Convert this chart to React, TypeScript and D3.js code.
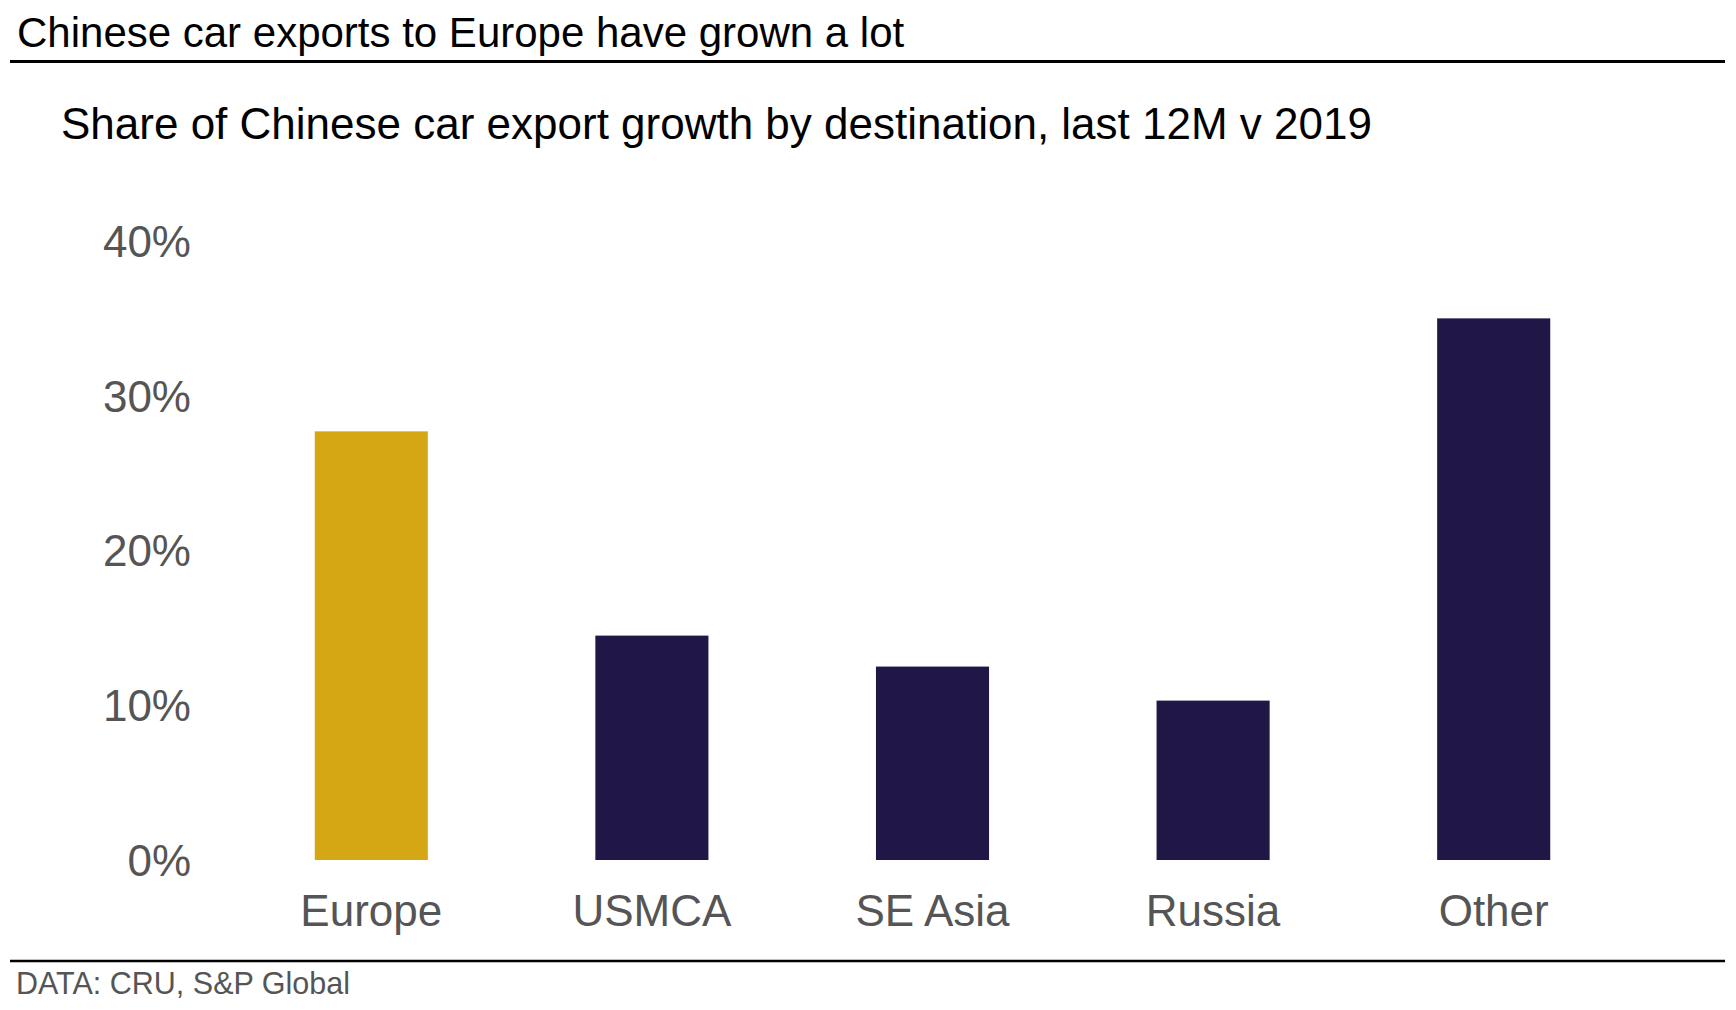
import { useEffect, useRef } from "react";
import * as d3 from "d3";

const CATEGORIES = ["Europe", "USMCA", "SE Asia", "Russia", "Other"];
const SHARES = [27.7, 14.5, 12.5, 10.3, 35.0];
const HIGHLIGHT = ["Europe"];
const Y_TICKS = [0, 10, 20, 30, 40];

const TITLE = "Chinese car exports to Europe have grown a lot";
const SUBTITLE = "Share of Chinese car export growth by destination, last 12M v 2019";
const SOURCE = "DATA: CRU, S&P Global";

const W = 1736;
const H = 1010;
const FONT = "'Liberation Sans', Arial, sans-serif";
const GOLD = "#d5a715";
const NAVY = "#201747";
const GREY = "#555555";

function drawChart(svgEl: SVGSVGElement) {
  const svg = d3.select(svgEl);
  svg.selectAll("*").remove();

  const x = d3.scaleBand<string>()
    .domain(CATEGORIES)
    .range([231, 1634])
    .paddingInner(0.597)
    .paddingOuter(0.2985);

  const y = d3.scaleLinear().domain([0, 40]).range([860, 241]);

  // title + rules
  svg.append("text")
    .attr("x", 17).attr("y", 47)
    .attr("font-family", FONT).attr("font-size", 42)
    .attr("fill", "#000")
    .text(TITLE);

  svg.append("line")
    .attr("x1", 10).attr("x2", 1725)
    .attr("y1", 61.5).attr("y2", 61.5)
    .attr("stroke", "#000").attr("stroke-width", 3);

  svg.append("text")
    .attr("x", 61).attr("y", 139)
    .attr("font-family", FONT).attr("font-size", 44)
    .attr("fill", "#000")
    .text(SUBTITLE);

  // y tick labels (no gridlines)
  Y_TICKS.forEach((v) => {
    svg.append("text")
      .attr("x", 191).attr("y", y(v))
      .attr("dy", "0.36em")
      .attr("text-anchor", "end")
      .attr("font-family", FONT).attr("font-size", 44)
      .attr("fill", GREY)
      .text(`${v}%`);
  });

  // bars
  CATEGORIES.forEach((c, i) => {
    svg.append("rect")
      .attr("x", x(c)!)
      .attr("y", y(SHARES[i]))
      .attr("width", x.bandwidth())
      .attr("height", y(0) - y(SHARES[i]))
      .attr("fill", HIGHLIGHT.includes(c) ? GOLD : NAVY);

    svg.append("text")
      .attr("x", x(c)! + x.bandwidth() / 2)
      .attr("y", 926)
      .attr("text-anchor", "middle")
      .attr("font-family", FONT).attr("font-size", 44)
      .attr("fill", GREY)
      .text(c);
  });

  // footer
  svg.append("line")
    .attr("x1", 10).attr("x2", 1725)
    .attr("y1", 961).attr("y2", 961)
    .attr("stroke", "#000").attr("stroke-width", 2.5);

  svg.append("text")
    .attr("x", 16).attr("y", 994)
    .attr("font-family", FONT).attr("font-size", 30.5)
    .attr("fill", GREY)
    .text(SOURCE);
}

export default function App() {
  const ref = useRef<SVGSVGElement>(null);

  useEffect(() => {
    if (ref.current) drawChart(ref.current);
  }, []);

  return (
    <div style={{ position: "absolute", top: 0, left: 0 }}>
      <svg ref={ref} width={W} height={H} style={{ display: "block", background: "#fff" }} />
    </div>
  );
}
